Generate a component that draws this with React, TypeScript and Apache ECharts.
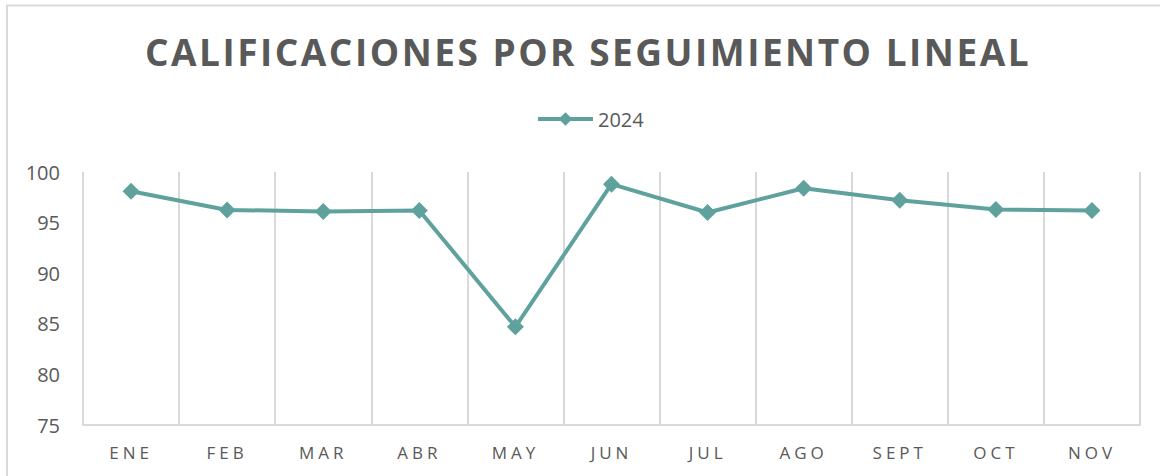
import React, { useEffect, useRef } from "react";
import * as echarts from "echarts";

const TITLE = "CALIFICACIONES POR SEGUIMIENTO LINEAL";
const SERIES_NAME = "2024";
const MONTHS = ["ENE", "FEB", "MAR", "ABR", "MAY", "JUN", "JUL", "AGO", "SEPT", "OCT", "NOV"];
const VALUES = [98.1, 96.25, 96.1, 96.2, 84.7, 98.8, 96.0, 98.4, 97.2, 96.3, 96.2];
const Y_MIN = 75;
const Y_MAX = 100;
const Y_STEP = 5;

const TEAL = "#5fa29d";
const TEXT = "#595959";
const GRIDC = "#d9d9d9";
const FONT = "'Open Sans', sans-serif";

export default function App() {
  const ref = useRef<HTMLDivElement>(null);
  useEffect(() => {
    if (!ref.current) return;
    const el = ref.current;
    const chart = echarts.init(el, null, { renderer: "svg" });
    const spacing = () => {
      el.querySelectorAll("text").forEach((t) => {
        const s = t.textContent || "";
        if (s === TITLE) t.setAttribute("letter-spacing", "2.5");
        else if (MONTHS.includes(s)) t.setAttribute("letter-spacing", "4");
      });
    };
    chart.on("finished", spacing);
    chart.setOption({
      animation: false,
      backgroundColor: "#ffffff",
      textStyle: { fontFamily: FONT },
      title: {
        text: TITLE,
        left: 583,
        top: 28,
        textAlign: "center",
        textStyle: { fontFamily: FONT, fontSize: 37, fontWeight: "bold", color: TEXT },
      },
      legend: {
        left: 536,
        top: 109,
        padding: 0,
        itemWidth: 55,
        itemHeight: 17,
        itemGap: 5,
        lineStyle: { width: 4, color: TEAL },
        itemStyle: { color: TEAL },
        textStyle: { fontFamily: FONT, fontSize: 20, color: TEXT },
        data: [SERIES_NAME],
      },
      graphic: [
        {
          type: "rect",
          shape: { x: 7, y: 5.5, width: 1200, height: 520 },
          style: { fill: "none", stroke: GRIDC, lineWidth: 2 },
          silent: true,
        },
      ],
      grid: { left: 83, right: 20, top: 172, bottom: 51, containLabel: false },
      xAxis: {
        type: "category",
        data: MONTHS,
        boundaryGap: true,
        axisLine: { show: true, lineStyle: { color: GRIDC, width: 2 } },
        axisTick: { show: false },
        splitLine: { show: true, lineStyle: { color: GRIDC, width: 2 } },
        axisLabel: { fontFamily: FONT, fontSize: 17, color: TEXT, margin: 19 },
      },
      yAxis: {
        type: "value",
        min: Y_MIN,
        max: Y_MAX,
        interval: Y_STEP,
        axisLine: { show: false },
        axisTick: { show: false },
        splitLine: { show: false },
        axisLabel: { fontFamily: FONT, fontSize: 20, color: TEXT, margin: 23 },
      },
      series: [
        {
          name: SERIES_NAME,
          type: "line",
          data: VALUES,
          symbol: "diamond",
          symbolSize: 17,
          lineStyle: { color: TEAL, width: 4 },
          itemStyle: { color: TEAL },
        },
      ],
    });
    spacing();
    const raf = requestAnimationFrame(spacing);
    return () => {
      cancelAnimationFrame(raf);
      chart.dispose();
    };
  }, []);
  return (
    <div
      ref={ref}
      style={{ position: "fixed", left: 0, top: 0, width: 1160, height: 476 }}
    />
  );
}
